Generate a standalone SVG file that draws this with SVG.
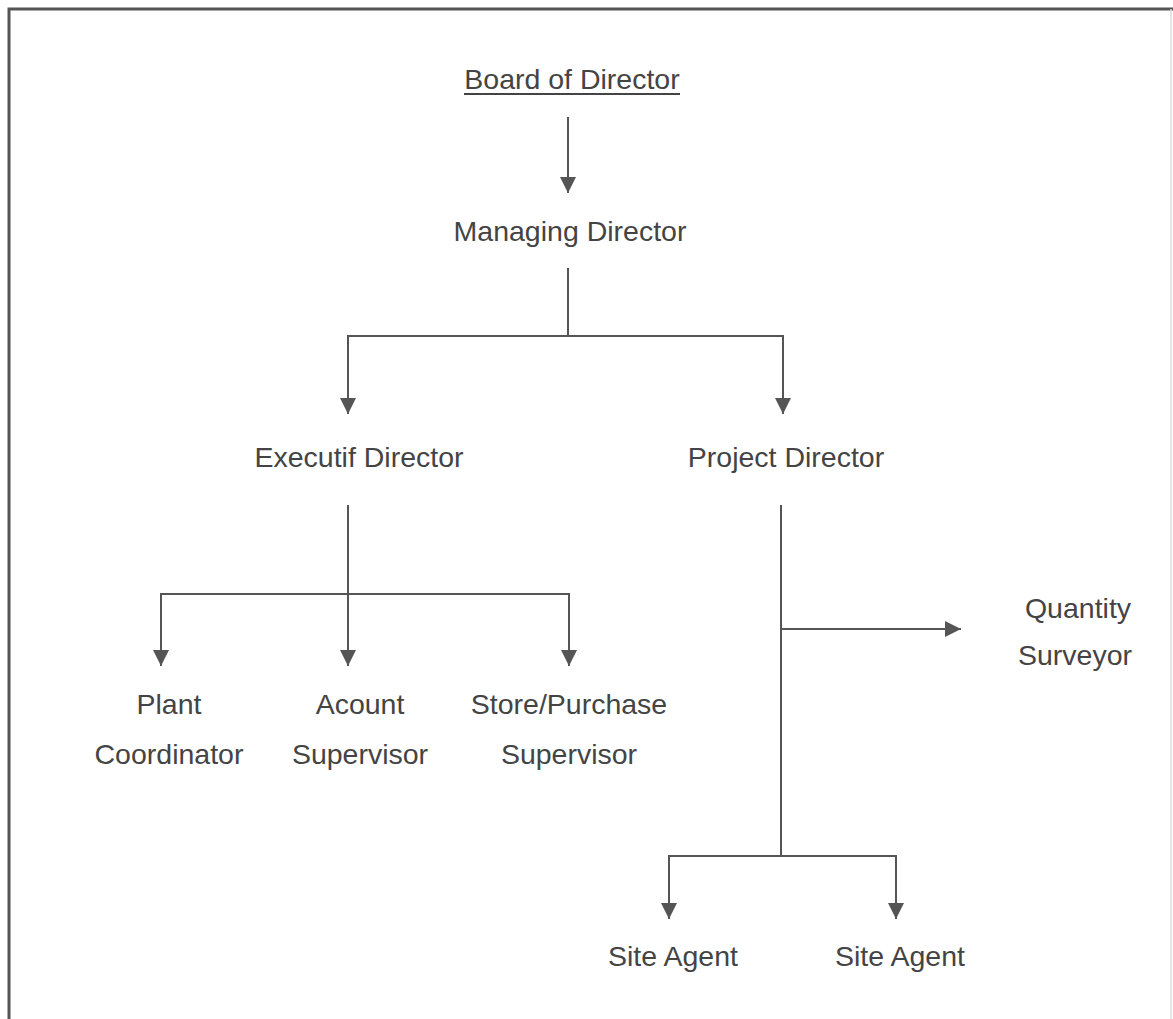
<svg xmlns="http://www.w3.org/2000/svg" width="1173" height="1019" viewBox="0 0 1173 1019">
<style>
text{font-family:"Liberation Sans",Arial,sans-serif;font-size:28.5px;fill:#444;text-anchor:middle}
.ln{stroke:#555;stroke-width:2;fill:none}
</style>
<defs>
<marker id="ah" viewBox="0 0 10 10" refX="10" refY="5" markerWidth="8" markerHeight="8" markerUnits="strokeWidth" orient="auto">
<path d="M0,0 L10,5 L0,10 z" fill="#555"/>
</marker>
</defs>
<rect width="1173" height="1019" fill="#fff"/>
<g id="frame">
<path d="M9,1019 V9 H1173" stroke="#555" stroke-width="3" fill="none"/>
<path d="M1171,9 V1019" stroke="#ddd" stroke-width="1.5" fill="none"/>
</g>
<g id="connectors">
<line class="ln" x1="568" y1="117" x2="568" y2="193" marker-end="url(#ah)"/>
<polyline class="ln" points="568,268 568,336"/>
<polyline class="ln" points="348,414 348,336 783,336 783,414" marker-end="url(#ah)"/>
<line class="ln" x1="348" y1="336" x2="348" y2="414" marker-end="url(#ah)"/>
<line class="ln" x1="348" y1="505" x2="348" y2="666" marker-end="url(#ah)"/>
<polyline class="ln" points="161,666 161,594 569,594 569,666" marker-end="url(#ah)"/>
<line class="ln" x1="161" y1="594" x2="161" y2="666" marker-end="url(#ah)"/>
<line class="ln" x1="781" y1="505" x2="781" y2="856"/>
<line class="ln" x1="781" y1="629" x2="961" y2="629" marker-end="url(#ah)"/>
<polyline class="ln" points="669,919 669,856 896,856 896,919" marker-end="url(#ah)"/>
<line class="ln" x1="669" y1="856" x2="669" y2="919" marker-end="url(#ah)"/>
</g>
<g id="board"><text x="572" y="89">Board of Director</text><line x1="464" y1="94" x2="680" y2="94" stroke="#444" stroke-width="2"/></g>
<g id="managing"><text x="570" y="241">Managing Director</text></g>
<g id="executif"><text x="359" y="467">Executif Director</text></g>
<g id="project"><text x="786" y="467">Project Director</text></g>
<g id="plant"><text x="169" y="714">Plant</text><text x="169" y="764">Coordinator</text></g>
<g id="acount"><text x="360" y="714">Acount</text><text x="360" y="764">Supervisor</text></g>
<g id="store"><text x="569" y="714">Store/Purchase</text><text x="569" y="764">Supervisor</text></g>
<g id="qs"><text x="1078" y="618">Quantity</text><text x="1075" y="665">Surveyor</text></g>
<g id="site1"><text x="673" y="966">Site Agent</text></g>
<g id="site2"><text x="900" y="966">Site Agent</text></g>
</svg>
